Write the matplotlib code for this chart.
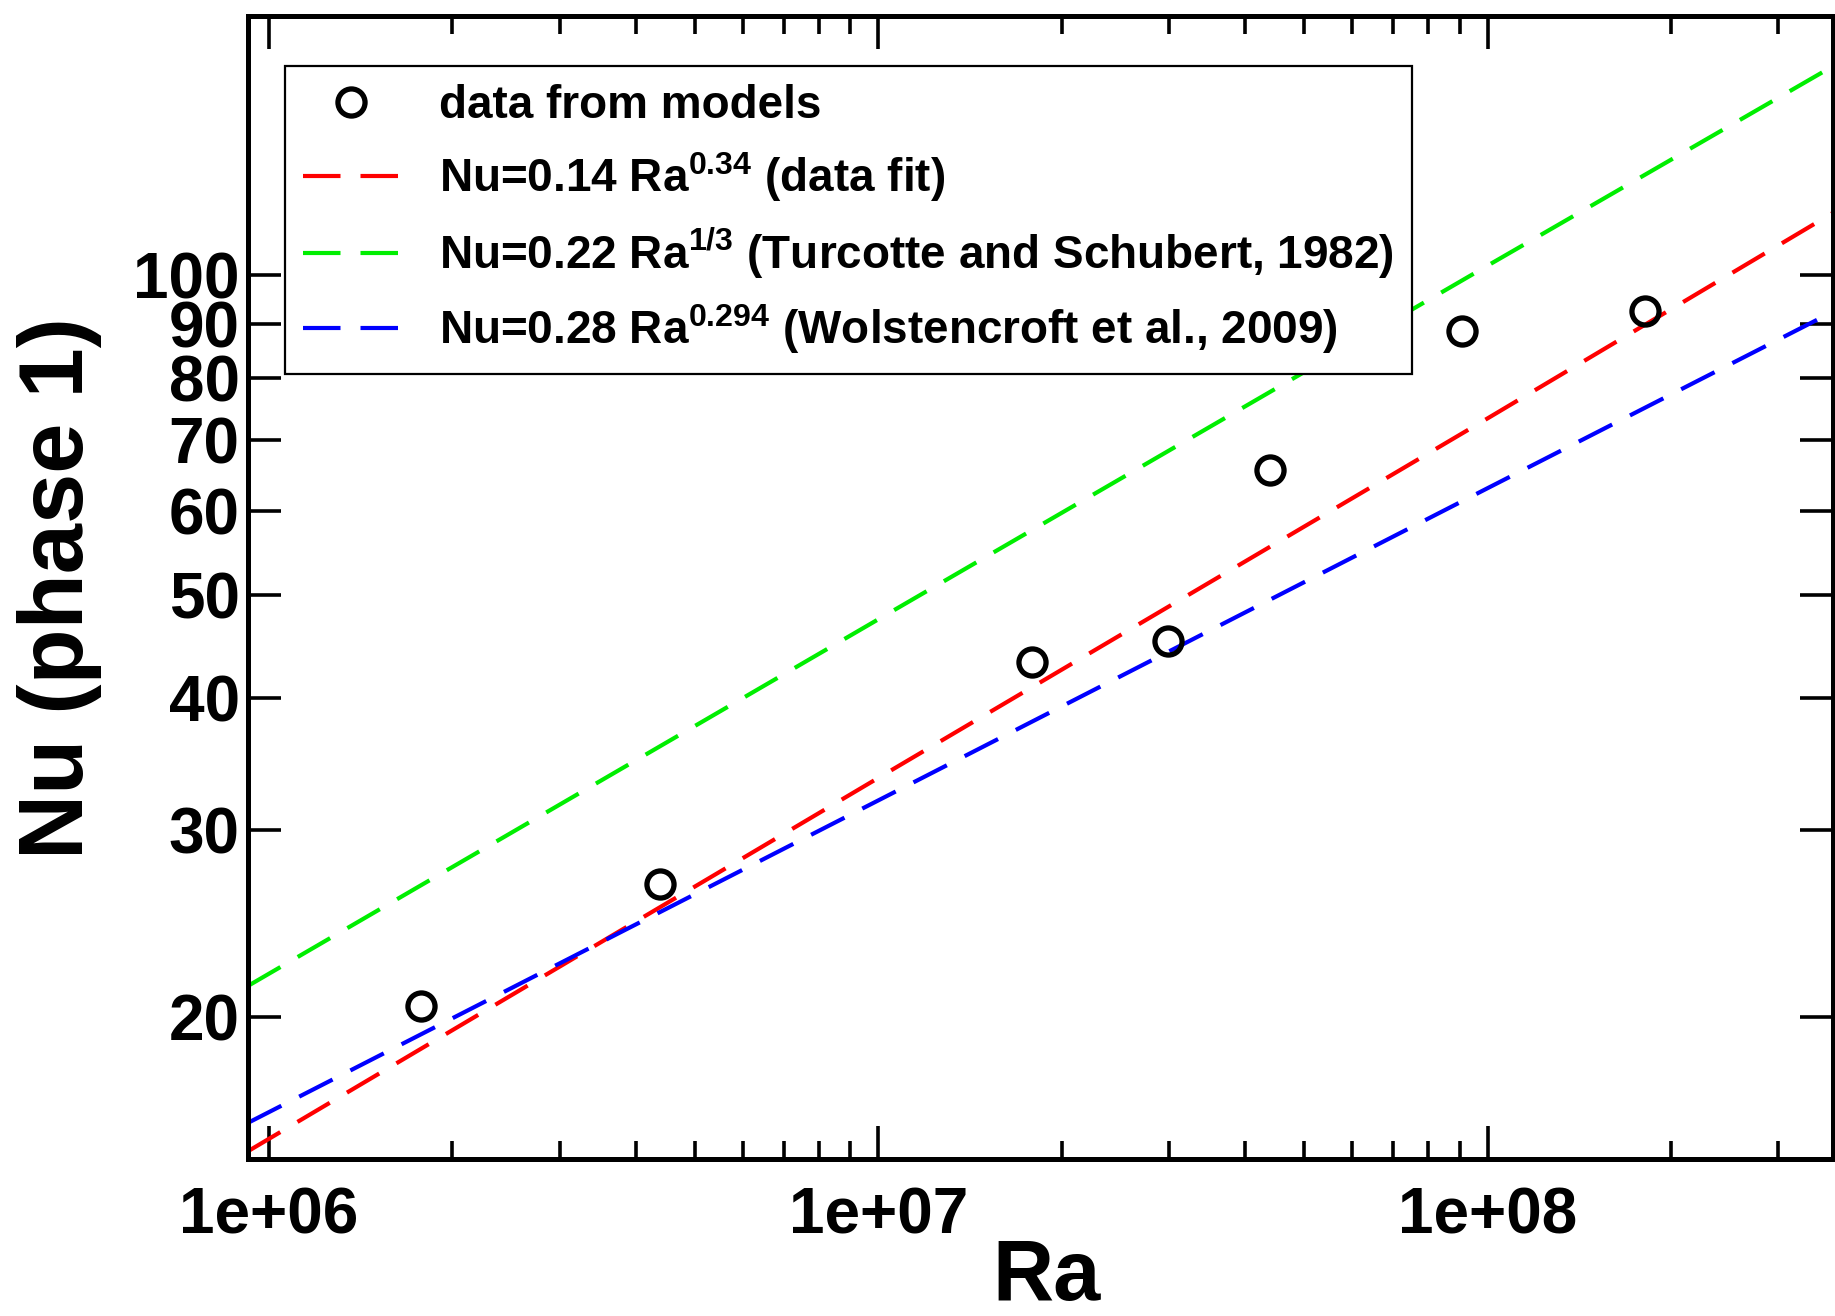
import matplotlib
matplotlib.use('Agg')
import matplotlib.pyplot as plt
from matplotlib.ticker import FixedLocator, FixedFormatter, NullFormatter

plt.rcParams['font.family'] = ['Liberation Sans', 'DejaVu Sans']
plt.rcParams['font.weight'] = 'bold'
plt.rcParams['mathtext.fontset'] = 'custom'
plt.rcParams['mathtext.rm'] = 'Liberation Sans'
plt.rcParams['mathtext.it'] = 'Liberation Sans'
plt.rcParams['mathtext.bf'] = 'Liberation Sans:bold'

# model data
ra_models = [1.78e6, 4.38e6, 1.79e7, 2.99e7, 4.40e7, 9.07e7, 1.81e8]
nu_models = [20.5, 26.7, 43.2, 45.2, 65.5, 88.6, 92.6]

# the three scaling lines
ra_line = [9.24e5, 1e7, 1e8, 3.69e8]
nu_fit = [14.95, 33.6, 73.3, 114.5]        # 0.14 Ra^0.34
nu_turcotte = [21.4, 47.4, 102.1, 157.4]   # 0.22 Ra^1/3
nu_wolst = [15.9, 32.0, 63.0, 92.4]        # 0.28 Ra^0.294

labels = ['data from models',
          r'Nu=0.14 Ra$^{\mathrm{0.34}}$ (data fit)',
          r'Nu=0.22 Ra$^{\mathrm{1/3}}$ (Turcotte and Schubert, 1982)',
          r'Nu=0.28 Ra$^{\mathrm{0.294}}$ (Wolstencroft et al., 2009)']

x_major = [1e6, 1e7, 1e8]
x_labels = ['1e+06', '1e+07', '1e+08']
y_ticks = [20, 30, 40, 50, 60, 70, 80, 90, 100]

fig = plt.figure(figsize=(18.35, 13.16), dpi=100)
ax = fig.add_axes([248/1835, 1 - 1159/1316, 1585/1835, 1143/1316])

lw = 3.0
dash = (9, 4.8)
ax.plot(ra_models, nu_models, 'o', ms=19.5, mfc='none', mec='black', mew=3.8,
        zorder=4, label=labels[0])
ax.plot(ra_line, nu_fit, color='#ff0000', lw=lw, dashes=dash, label=labels[1])
ax.plot(ra_line, nu_turcotte, color='#00ee00', lw=lw, dashes=dash, label=labels[2])
ax.plot(ra_line, nu_wolst, color='#0000ff', lw=lw, dashes=dash, label=labels[3])

ax.set_xscale('log')
ax.set_yscale('log')
ax.set_xlim(9.24e5, 3.69e8)
ax.set_ylim(14.7, 175.5)

ax.xaxis.set_major_locator(FixedLocator(x_major))
ax.xaxis.set_major_formatter(FixedFormatter(x_labels))
minors = [m * d for d in [1e5, 1e6, 1e7, 1e8] for m in range(2, 10)]
ax.xaxis.set_minor_locator(FixedLocator(minors))
ax.xaxis.set_minor_formatter(NullFormatter())
ax.yaxis.set_major_locator(FixedLocator(y_ticks))
ax.yaxis.set_major_formatter(FixedFormatter([str(v) for v in y_ticks]))
ax.yaxis.set_minor_locator(FixedLocator([]))
ax.yaxis.set_minor_formatter(NullFormatter())

ax.tick_params(which='both', direction='in', top=True, right=True, width=2.6)
ax.tick_params(which='major', length=24, labelsize=46)
ax.tick_params(which='minor', length=13)
ax.tick_params(axis='x', pad=20)
ax.tick_params(axis='y', pad=6)
for lab in ax.get_xticklabels() + ax.get_yticklabels():
    lab.set_fontweight('bold')
for sp in ax.spines.values():
    sp.set_linewidth(3.6)

fig.text(59/1835, 1 - 588/1316, 'Nu (phase 1)', rotation=90, ha='center',
         va='center', fontsize=65, fontweight='bold')
fig.text(1047/1835, 1 - 1300/1316, 'Ra', ha='center', va='baseline',
         fontsize=61, fontweight='bold')

leg = ax.legend(loc='upper left', bbox_to_anchor=(285/1835, 1 - 66/1316),
                bbox_transform=fig.transFigure, borderaxespad=0,
                fancybox=False, framealpha=1, edgecolor='black',
                prop={'size': 33, 'weight': 'bold'}, handlelength=2.1,
                handletextpad=0.85, borderpad=0.4, labelspacing=0.47)
leg.get_frame().set_linewidth(1.6)

fig.savefig('out.png', dpi=100)
